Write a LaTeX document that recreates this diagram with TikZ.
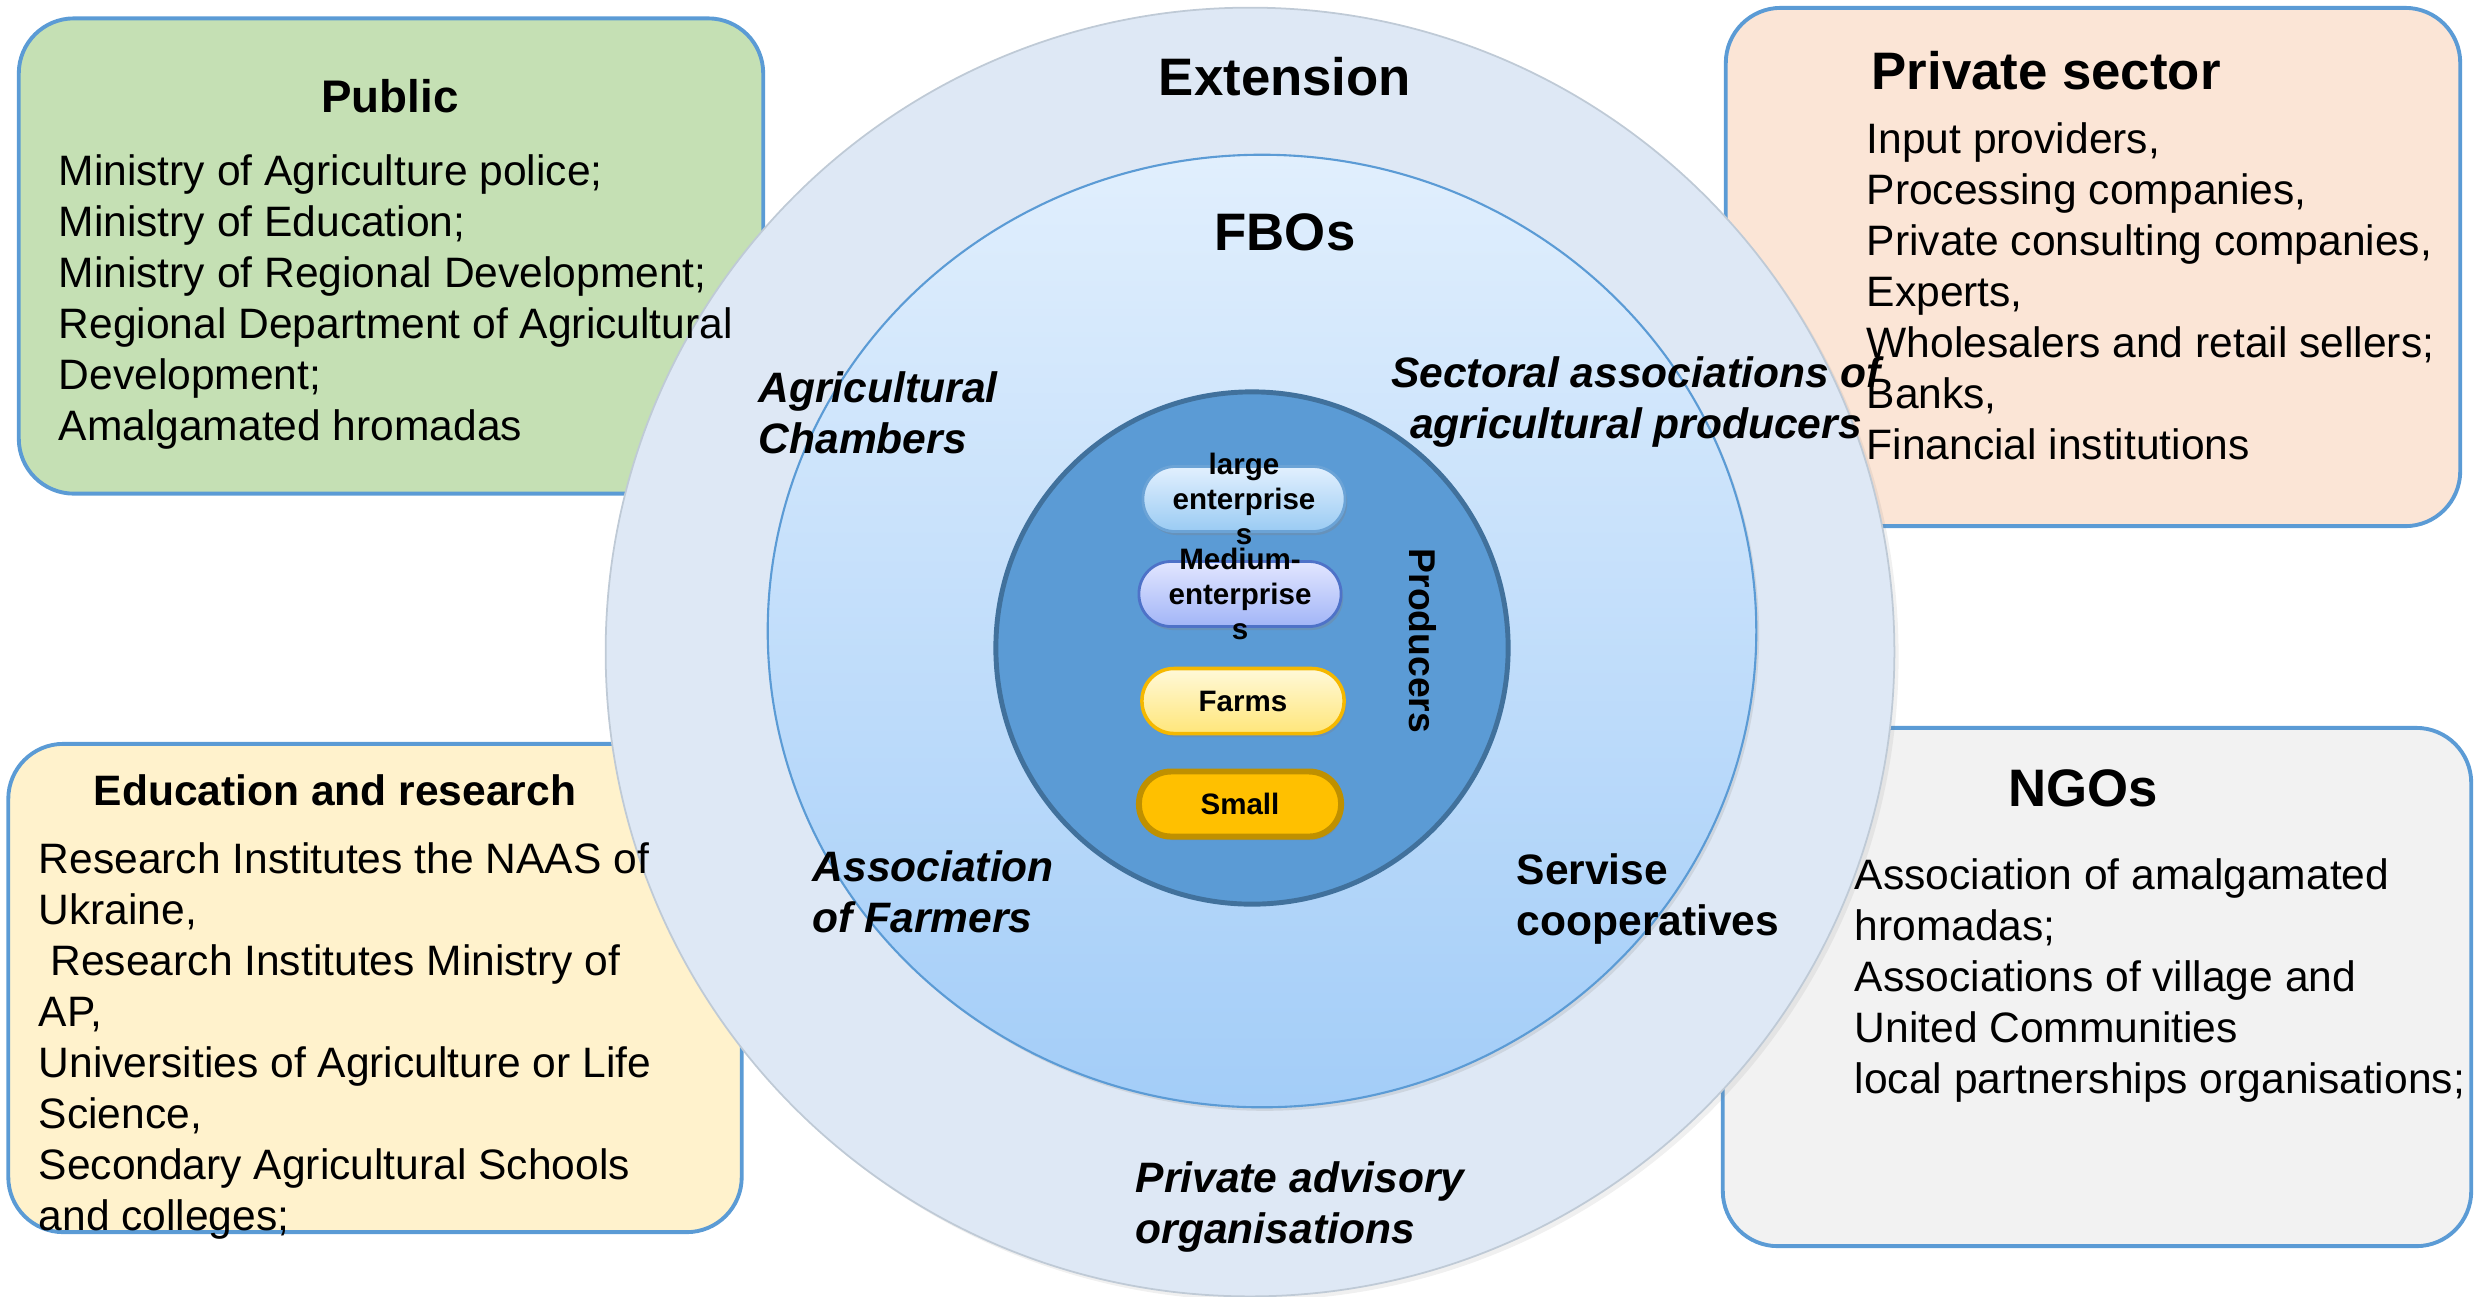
\documentclass[tikz,border=0pt]{standalone}
\usepackage{fontspec}
\setmainfont{Liberation Sans}
\usetikzlibrary{shadows,shapes.geometric}

\definecolor{boxline}{HTML}{5B9BD5}
\definecolor{pubfill}{HTML}{C5E0B4}
\definecolor{edufill}{HTML}{FFF2CC}
\definecolor{privfill}{HTML}{FBE5D6}
\definecolor{ngofill}{HTML}{F2F2F2}
\definecolor{extfill}{HTML}{DEE8F5}
\definecolor{extline}{HTML}{BFCAD6}
\definecolor{fbotop}{HTML}{E1EFFD}
\definecolor{fbobot}{HTML}{A3CDF8}
\definecolor{prodfill}{HTML}{5B9BD5}
\definecolor{prodline}{HTML}{41719C}
\definecolor{lgtop}{HTML}{E2F0FE}
\definecolor{lgbot}{HTML}{9ACBF3}
\definecolor{lgline}{HTML}{6BA3D6}
\definecolor{mdtop}{HTML}{E2E6FF}
\definecolor{mdbot}{HTML}{A2B5F7}
\definecolor{mdline}{HTML}{4E72C8}
\definecolor{fmtop}{HTML}{FFF9D9}
\definecolor{fmbot}{HTML}{FFE67A}
\definecolor{fmline}{HTML}{F5B800}
\definecolor{smfill}{HTML}{FFC000}
\definecolor{smline}{HTML}{BF9000}

\tikzset{
  bodytext/.style={inner sep=0,align=left,anchor=north west,font=\fontsize{12.1}{14.5}\selectfont},
  ringtext/.style={inner sep=0,align=left,anchor=north west,font=\fontsize{12.1}{14.4}\selectfont\bfseries\itshape},
  headtext/.style={inner sep=0,font=\fontsize{15}{18}\selectfont\bfseries},
  pilltext/.style={inner sep=0,align=center,font=\fontsize{8.4}{9.9}\selectfont\bfseries}
}

\begin{document}
\begin{tikzpicture}[x=0.01cm,y=-0.01cm]
  \useasboundingbox (0,0) rectangle (2476,1296);
  \begin{scope}[every node/.style={rectangle,rounded corners=0.55cm,draw=boxline,line width=1.1pt,inner sep=0}]
    \node[fill=pubfill,minimum width=7.44cm,minimum height=4.75cm] (PubBox) at (391,256) {};
    \node[fill=edufill,minimum width=7.33cm,minimum height=4.88cm] (EduBox) at (375,988) {};
    \node[fill=privfill,minimum width=7.34cm,minimum height=5.18cm] (PrivBox) at (2093,267) {};
    \node[fill=ngofill,minimum width=7.48cm,minimum height=5.18cm] (NgoBox) at (2097,987) {};
  \end{scope}
  \begin{scope}[every node/.style={inner sep=0}]
    \node[circle,fill=extfill,draw=extline,line width=0.5pt,minimum size=12.88cm,
      drop shadow={opacity=0.12,shadow xshift=1.2pt,shadow yshift=-1.2pt}] (Ext) at (1250,652) {};
    \node[ellipse,top color=fbotop,bottom color=fbobot,draw=boxline,line width=0.6pt,
      minimum width=9.88cm,minimum height=9.52cm,
      drop shadow={opacity=0.18,shadow xshift=0.8pt,shadow yshift=-1pt}] (FBO) at (1262,631) {};
    \node[circle,fill=prodfill,draw=prodline,line width=1.4pt,minimum size=5.12cm] (Prod) at (1252,648) {};
  \end{scope}
  \begin{scope}[every node/.style={rectangle,rounded corners=0.32cm,minimum width=2.02cm,minimum height=0.65cm,inner sep=0,
      drop shadow={opacity=0.3,shadow xshift=0.6pt,shadow yshift=-1pt}}]
    \node[top color=lgtop,bottom color=lgbot,draw=lgline,line width=0.8pt] (Large) at (1244,499) {};
    \node[top color=mdtop,bottom color=mdbot,draw=mdline,line width=0.8pt] (Medium) at (1240,594) {};
    \node[top color=fmtop,bottom color=fmbot,draw=fmline,line width=1pt] (Farms) at (1243,701) {};
    \node[fill=smfill,draw=smline,line width=1.7pt] (Small) at (1240,804) {};
  \end{scope}

  \node[pilltext] (LargeT) at (Large) {large\\enterprise\\s};
  \node[pilltext] (MediumT) at (Medium) {Medium-\\enterprise\\s};
  \node[pilltext] (FarmsT) at (Farms) {Farms};
  \node[pilltext] (SmallT) at (Small) {Small};
  \node[inner sep=0,rotate=-90,font=\fontsize{10.6}{12}\selectfont\bfseries] (ProdT) at (1423,641) {Producers};

  \node[headtext] (ExtT) at (1285,77) {Extension};
  \node[headtext] (FBOT) at (1285,232) {FBOs};
  \node[ringtext] (Chambers) at (758,371) {Agricultural\\Chambers};
  \node[ringtext,align=center,anchor=north] (Sectoral) at (1636,356) {Sectoral associations of\\agricultural producers};
  \node[ringtext] (Farmers) at (812,850) {Association\\of Farmers};
  \node[ringtext,font=\fontsize{12.1}{14.4}\selectfont\bfseries] (Servise) at (1516,853) {Servise\\cooperatives};
  \node[ringtext] (Advisory) at (1135,1161) {Private advisory\\organisations};

  \node[headtext,font=\fontsize{13}{15}\selectfont\bfseries] (PubT) at (390,96) {Public};
  \node[bodytext] (PubL) at (58,154) {Ministry of Agriculture police;\\Ministry of Education;\\Ministry of Regional Development;\\Regional Department of Agricultural\\Development;\\Amalgamated hromadas};
  \node[headtext,font=\fontsize{12.1}{15}\selectfont\bfseries] (EduT) at (335,790) {Education and research};
  \node[bodytext] (EduL) at (38,842) {Research Institutes the NAAS of\\Ukraine,\\\hspace*{0.28em}Research Institutes Ministry of\\AP,\\Universities of Agriculture or Life\\Science,\\Secondary Agricultural Schools\\and colleges;};
  \node[headtext,anchor=west] (PrivT) at (1871,71) {Private sector};
  \node[bodytext] (PrivL) at (1866,122) {Input providers,\\Processing companies,\\Private consulting companies,\\Experts,\\Wholesalers and retail sellers;\\Banks,\\Financial institutions};
  \node[headtext] (NgoT) at (2083,788) {NGOs};
  \node[bodytext] (NgoL) at (1854,858) {Association of amalgamated\\hromadas;\\Associations of village and\\United Communities\\local partnerships organisations;};
\end{tikzpicture}
\end{document}
